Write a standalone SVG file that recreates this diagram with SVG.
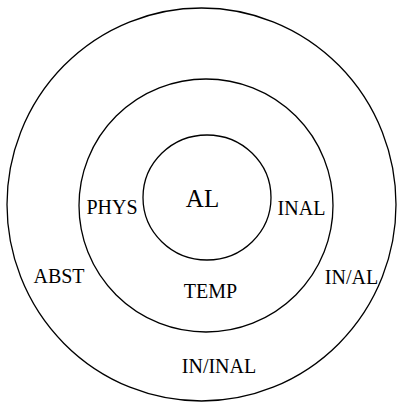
<svg xmlns="http://www.w3.org/2000/svg" width="397" height="404" viewBox="0 0 397 404">
<style>
.ring{fill:none;stroke:#000;stroke-width:1.3}
text{font-family:"Liberation Serif","Times New Roman",serif;font-size:20px;fill:#000;text-anchor:middle}
</style>
<rect width="397" height="404" fill="#fff"/>
<g id="outer"><ellipse class="ring" cx="201.5" cy="204.5" rx="194.5" ry="196.5"/><text x="59" y="283">ABST</text><text x="351.5" y="284">IN/AL</text><text x="219" y="373">IN/INAL</text></g>
<g id="middle"><ellipse class="ring" cx="206" cy="205.5" rx="127" ry="126.5"/><text x="112" y="214">PHYS</text><text x="301.5" y="215">INAL</text><text x="210.5" y="298">TEMP</text></g>
<g id="inner"><ellipse class="ring" cx="207" cy="197.5" rx="64" ry="62.5"/><text x="202.5" y="207" style="font-size:25px">AL</text></g>
</svg>
